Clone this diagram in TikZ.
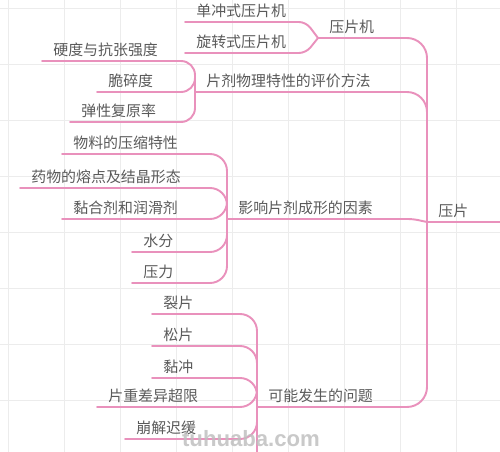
\documentclass[tikz,border=0pt]{standalone}
\usepackage{fontspec}
\newfontfamily\cjk{Noto Sans CJK SC}
\newfontfamily\wmfont{Liberation Sans}
\definecolor{branchpink}{RGB}{233,145,188}
\definecolor{txtgray}{RGB}{90,90,90}
\definecolor{gridgray}{RGB}{236,236,236}
\begin{document}
\begin{tikzpicture}[x=0.02cm,y=-0.02cm,line join=round,line cap=round,
	topic/.style={font=\cjk\fontsize{8.5pt}{10pt}\selectfont,text=txtgray,inner xsep=0.22cm,inner ysep=0.11cm,text depth=0pt,anchor=south west},
	link/.style={draw=branchpink,line width=1.1pt,rounded corners=#1},
	link/.default=0.34cm]
		\useasboundingbox (0,0) rectangle (500,452);
		\clip (0,0) rectangle (500,452);
		\foreach \k in {8,64,...,456} {\draw[gridgray,line width=0.5pt] (\k,0)--(\k,452) (0,\k)--(500,\k);}
		% root and main branches
		\node[topic] (root) at (427,222) {压片};
		\node[topic] (mach) at (318,38) {压片机};
		\node[topic] (eval) at (195,92) {片剂物理特性的评价方法};
		\node[topic] (form) at (227,219) {影响片剂成形的因素};
		\node[topic] (prob) at (257,407) {可能发生的问题};
		\coordinate (edge) at (500,222);
		\coordinate (bend) at (413,219);
		\coordinate (knee) at (306,38);
		\coordinate (tail) at (257,470);
		% leaves
		\node[topic] (c11) at (185,22) {单冲式压片机};
		\node[topic] (c12) at (185,53) {旋转式压片机};
		\node[topic] (c21) at (42,61) {硬度与抗张强度};
		\node[topic] (c22) at (97,92) {脆碎度};
		\node[topic] (c23) at (70,122) {弹性复原率};
		\node[topic] (c31) at (62,154) {物料的压缩特性};
		\node[topic] (c32) at (20,188) {药物的熔点及结晶形态};
		\node[topic] (c33) at (62,219) {黏合剂和润滑剂};
		\node[topic] (c34) at (132,252) {水分};
		\node[topic] (c35) at (132,283) {压力};
		\node[topic] (c41) at (152,314) {裂片};
		\node[topic] (c42) at (152,346) {松片};
		\node[topic] (c43) at (152,378) {黏冲};
		\node[topic] (c44) at (97,407) {片重差异超限};
		\node[topic] (c45) at (125,439) {崩解迟缓};
		% connectors
		\draw[link] (root.south west) -- (edge);
		\draw[link=0.4cm] (mach.south west) -- (mach.south west -| root.south west) -- (root.south west);
		\draw[link=0.4cm] (eval.south west) -- (eval.south west -| root.south west) -- (root.south west);
		\draw[link=0.1cm] (form.south west) -- (bend) -- (root.south west);
		\draw[link=0.4cm] (prob.south west) -- (prob.south west -| root.south west) -- (root.south west);
		\foreach \c in {c11,c12} \draw[link=0.14cm] (\c.south west) -- (\c.south west -| knee) -- (mach.south west);
		\foreach \c in {c21,c22,c23} \draw[link=0.28cm] (\c.south west) -- (\c.south west -| eval.south west) -- (eval.south west);
		\foreach \c in {c31,c32,c33,c34,c35} \draw[link] (\c.south west) -- (\c.south west -| form.south west) -- (form.south west);
		\foreach \c in {c41,c42,c43,c44,c45} \draw[link] (\c.south west) -- (\c.south west -| prob.south west) -- (prob.south west);
		\draw[link] (prob.south west) -- (tail);
		\node[font=\wmfont\bfseries\fontsize{12.6pt}{14pt}\selectfont,text=gray!50,opacity=0.85] (mark) at (251,439) {tuhuaba.com};
\end{tikzpicture}
\end{document}
